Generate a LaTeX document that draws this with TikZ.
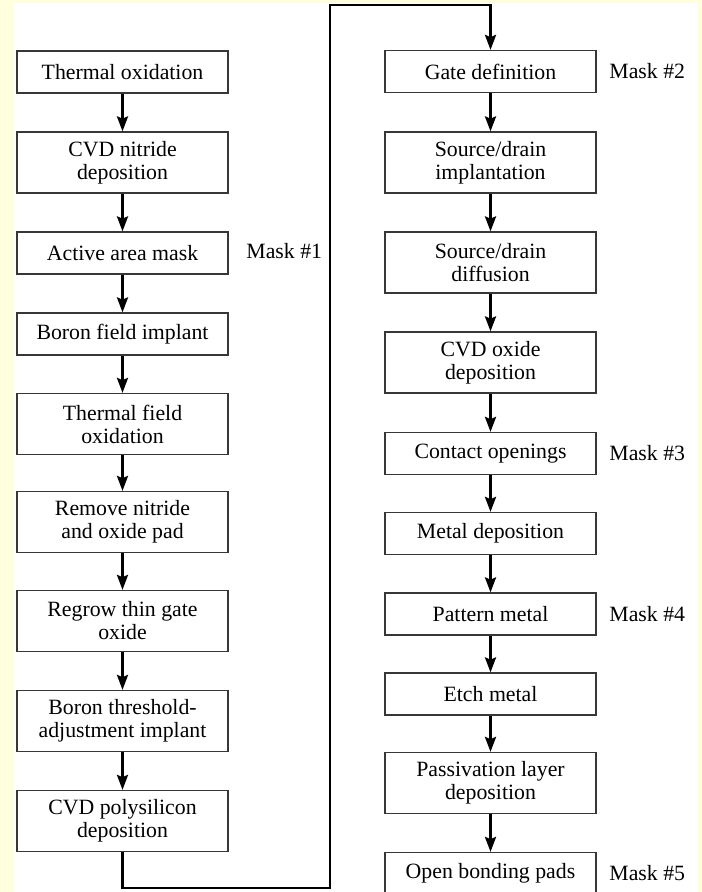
\documentclass[tikz,border=0pt]{standalone}
\usepackage{fontspec}
\setmainfont{Liberation Serif}
\usetikzlibrary{arrows.meta}
\definecolor{cream}{RGB}{255,255,221}
\definecolor{boxline}{RGB}{55,55,55}

\begin{document}
\begin{tikzpicture}[x=0.5pt,y=-0.5pt,
  stepbox/.style={draw=boxline,line width=0.6pt,fill=white,minimum width=105.5pt,
    minimum height=21pt,inner sep=2pt,align=center,font=\fontsize{10.9}{11.5}\selectfont},
  tallbox/.style={stepbox,minimum height=30.5pt},
  masklabel/.style={anchor=west,inner sep=0pt,font=\fontsize{10.9}{11.5}\selectfont},
  flow/.style={line width=1.4pt,line join=miter,-{Stealth[length=7.5pt,width=5.5pt,inset=1.2pt]}}]
  \fill[cream] (0,0) rectangle (701,892);
  \fill[white] (14,3) rectangle (697,892);
  \useasboundingbox (0,0) rectangle (701,892);
  % left column
  \node[stepbox] (oxid) at (122.5,72) {Thermal oxidation};
  \node[tallbox] (nitride) at (122.5,162.5) {CVD nitride\\deposition};
  \node[stepbox] (active) at (122.5,253) {Active area mask};
  \node[stepbox] (fieldimp) at (122.5,334) {Boron field implant};
  \node[tallbox] (fieldox) at (122.5,424) {Thermal field\\oxidation};
  \node[tallbox] (strip) at (122.5,522) {Remove nitride\\and oxide pad};
  \node[tallbox] (regrow) at (122.5,621) {Regrow thin gate\\oxide};
  \node[tallbox] (thresh) at (122.5,721) {Boron threshold-\\adjustment implant};
  \node[tallbox] (poly) at (122.5,821) {CVD polysilicon\\deposition};
  % right column
  \node[stepbox] (gate) at (490.5,71.5) {Gate definition};
  \node[tallbox] (sdimp) at (490.5,162.5) {Source/drain\\implantation};
  \node[tallbox] (sddiff) at (490.5,262.5) {Source/drain\\diffusion};
  \node[tallbox] (cvdox) at (490.5,362.5) {CVD oxide\\deposition};
  \node[stepbox] (contact) at (490.5,453.5) {Contact openings};
  \node[stepbox] (metdep) at (490.5,533.5) {Metal deposition};
  \node[stepbox] (patmet) at (490.5,614) {Pattern metal};
  \node[stepbox] (etch) at (490.5,694) {Etch metal};
  \node[tallbox] (passiv) at (490.5,783) {Passivation layer\\deposition};
  \node[stepbox] (bondpad) at (490.5,873.5) {Open bonding pads};
  % masks
  \node[masklabel] (mask1) at (246,251) {Mask \#1};
  \node[masklabel] (mask2) at (609,71.5) {Mask \#2};
  \node[masklabel] (mask3) at (609,453.5) {Mask \#3};
  \node[masklabel] (mask4) at (609,614) {Mask \#4};
  \node[masklabel] (mask5) at (609,873.5) {Mask \#5};
  % arrows
  \foreach \a/\b in {oxid/nitride,nitride/active,active/fieldimp,fieldimp/fieldox,
      fieldox/strip,strip/regrow,regrow/thresh,thresh/poly,
      gate/sdimp,sdimp/sddiff,sddiff/cvdox,cvdox/contact,contact/metdep,
      metdep/patmet,patmet/etch,etch/passiv,passiv/bondpad}
    \draw[flow] (\a) -- (\b);
  \coordinate (loopbot) at (330,888);
  \coordinate (looptop) at (330,5);
  \draw[flow] (poly.south) |- (loopbot) -- (looptop) -| (gate.north);
\end{tikzpicture}
\end{document}
